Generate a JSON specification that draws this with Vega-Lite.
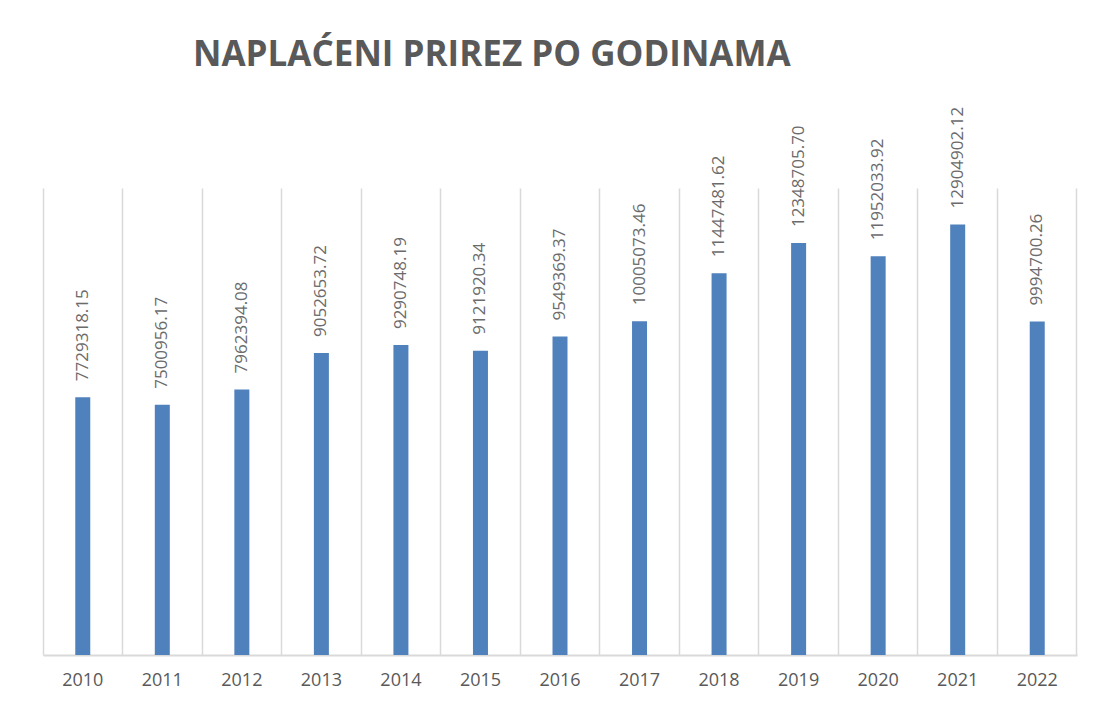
{
  "$schema": "https://vega.github.io/schema/vega-lite/v6.json",
  "width": 1034,
  "height": 467,
  "autosize": {"type": "none"},
  "padding": {"left": 43, "top": 188, "right": 22, "bottom": 55},
  "background": "white",
  "title": {
    "text": "NAPLAĆENI PRIREZ PO GODINAMA",
    "font": "Open Sans",
    "fontSize": 35,
    "fontWeight": "bold",
    "color": "#595959",
    "anchor": "start",
    "frame": "group",
    "dx": 150,
    "baseline": "alphabetic",
    "offset": 6
  },
  "data": {
    "values": [
      {"year": "2010", "value": 7729318.15},
      {"year": "2011", "value": 7500956.17},
      {"year": "2012", "value": 7962394.08},
      {"year": "2013", "value": 9052653.72},
      {"year": "2014", "value": 9290748.19},
      {"year": "2015", "value": 9121920.34},
      {"year": "2016", "value": 9549369.37},
      {"year": "2017", "value": 10005073.46},
      {"year": "2018", "value": 11447481.62},
      {"year": "2019", "value": 12348705.70},
      {"year": "2020", "value": 11952033.92},
      {"year": "2021", "value": 12904902.12},
      {"year": "2022", "value": 9994700.26}
    ]
  },
  "encoding": {
    "y": {
      "field": "value",
      "type": "quantitative",
      "scale": {"domain": [0, 14000000], "nice": false},
      "axis": null
    }
  },
  "layer": [
    {
      "mark": {"type": "bar", "color": "#4f81bd", "width": 15},
      "encoding": {
        "x": {
          "field": "year",
          "type": "ordinal",
          "scale": {"paddingInner": 0, "paddingOuter": 0},
          "axis": {
            "title": null,
            "bandPosition": 0,
            "grid": true,
            "gridColor": "#d9d9d9",
            "gridWidth": 1.5,
            "domainColor": "#d9d9d9",
            "domainWidth": 2,
            "ticks": false,
            "labelAngle": 0,
            "labelFont": "Open Sans",
            "labelFontSize": 18,
            "labelColor": "#595959",
            "labelPadding": 16
          }
        }
      }
    },
    {
      "mark": {
        "type": "text",
        "angle": 270,
        "align": "left",
        "baseline": "middle",
        "dx": 16,
        "font": "Open Sans",
        "fontSize": 17,
        "color": "#6b6b6b"
      },
      "encoding": {
        "x": {
          "field": "year",
          "type": "ordinal",
          "axis": {
            "orient": "top",
            "title": null,
            "bandPosition": 1,
            "values": ["2022"],
            "grid": true,
            "gridColor": "#d9d9d9",
            "gridWidth": 1.5,
            "domain": false,
            "ticks": false,
            "labels": false
          }
        },
        "text": {"field": "value", "type": "quantitative", "format": ".2f"}
      }
    }
  ],
  "resolve": {"axis": {"x": "independent"}},
  "config": {"view": {"stroke": null}}
}
